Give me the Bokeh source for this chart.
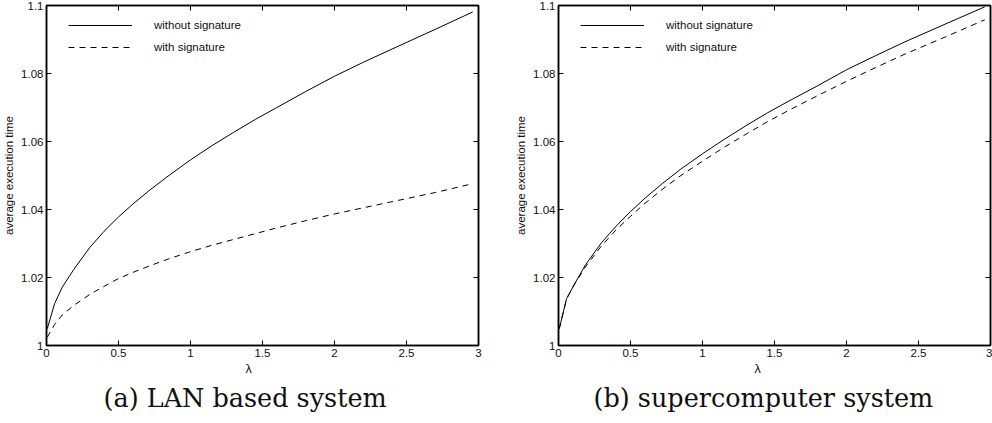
from bokeh.plotting import figure
from bokeh.models import (Range1d, FixedTicker, CustomJSTickFormatter, LinearAxis,
                          Legend, LegendItem, Title)
from bokeh.layouts import row
from bokeh.embed import file_html
from bokeh.resources import INLINE

# ---- data ----
lam = [0.005, 0.056, 0.11, 0.19, 0.3, 0.4, 0.5, 0.6, 0.72, 0.85, 1.0, 1.15, 1.3, 1.45,
       1.6, 1.8, 2.0, 2.2, 2.4, 2.7, 2.96]
lan_without = [1.0049, 1.0123, 1.0172, 1.0224, 1.0288, 1.0336, 1.0378, 1.0416, 1.0458,
               1.0500, 1.0546, 1.0588, 1.0627, 1.0665, 1.0700, 1.0747, 1.0792, 1.0833,
               1.0872, 1.0930, 1.0981]
lan_with = [1.0024, 1.0062, 1.0090, 1.0118, 1.0150, 1.0174, 1.0197, 1.0215, 1.0235,
            1.0255, 1.0276, 1.0295, 1.0312, 1.0329, 1.0346, 1.0367, 1.0387, 1.0405,
            1.0423, 1.0450, 1.0476]
sc_without = [1.0049, 1.0138, 1.0180, 1.0239, 1.0303, 1.0351, 1.0394, 1.0433, 1.0476,
              1.0519, 1.0564, 1.0606, 1.0646, 1.0684, 1.0719, 1.0764, 1.0811, 1.0852,
              1.0892, 1.0948, 1.0996]
sc_with = [1.0049, 1.0137, 1.0179, 1.0233, 1.0294, 1.0340, 1.0380, 1.0418, 1.0459,
           1.0500, 1.0542, 1.0583, 1.0621, 1.0658, 1.0692, 1.0735, 1.0777, 1.0817,
           1.0856, 1.0910, 1.0958]

x_ticks = [0, 0.5, 1, 1.5, 2, 2.5, 3]
y_ticks = [1, 1.02, 1.04, 1.06, 1.08, 1.1]
series_labels = ["without signature", "with signature"]
y_title = "average execution time"
x_title = "\u03bb"
captions = ["(a) LAN based system", "(b) supercomputer system"]

FONT = "Liberation Sans"
FS = "11.5px"


def style_axis(ax, show_labels=True):
    ax.axis_line_color = "black"
    ax.axis_line_width = 1.5
    ax.major_tick_in = 5
    ax.major_tick_out = 0
    ax.major_tick_line_color = "black"
    ax.minor_tick_line_color = None
    ax.major_label_text_font = FONT
    ax.major_label_text_font_size = FS
    ax.major_label_text_color = "#111111"
    ax.major_label_standoff = 3
    if show_labels:
        ax.formatter = CustomJSTickFormatter(code="return String(Number(tick.toFixed(3)));")
    else:
        ax.formatter = CustomJSTickFormatter(code="return ''")
        ax.major_label_standoff = 0


def make(yw, yd, caption, border_left, border_right, width, lam_off, cap_off):
    p = figure(width=width, height=423, x_range=Range1d(0, 3), y_range=Range1d(1, 1.1),
               output_backend="svg", toolbar_location=None,
               min_border_left=border_left, min_border_right=border_right,
               min_border_top=5, min_border_bottom=78)
    p.grid.visible = False
    p.outline_line_color = "black"
    p.outline_line_width = 1.5
    p.background_fill_color = "white"
    p.border_fill_color = "white"

    xa = p.xaxis[0]
    ya = p.yaxis[0]
    xa.ticker = FixedTicker(ticks=x_ticks)
    ya.ticker = FixedTicker(ticks=y_ticks)
    style_axis(xa)
    style_axis(ya)
    ya.axis_label = y_title
    ya.axis_label_text_font = FONT
    ya.axis_label_text_font_size = FS
    ya.axis_label_text_font_style = "normal"
    ya.axis_label_text_color = "#111111"
    ya.axis_label_standoff = 3

    top = LinearAxis(ticker=FixedTicker(ticks=x_ticks))
    right = LinearAxis(ticker=FixedTicker(ticks=y_ticks))
    style_axis(top, False)
    style_axis(right, False)
    p.add_layout(top, "above")
    p.add_layout(right, "right")

    r1 = p.line(lam, yw, line_color="black", line_width=1)
    r2 = p.line(lam, yd, line_color="black", line_width=1, line_dash="6 5")

    leg = Legend(items=[LegendItem(label=series_labels[0], renderers=[r1]),
                        LegendItem(label=series_labels[1], renderers=[r2])],
                 location=(22, 288))
    leg.border_line_alpha = 0
    leg.background_fill_alpha = 0
    leg.glyph_width = 64
    leg.glyph_height = 20
    leg.label_height = 20
    leg.label_standoff = 22
    leg.spacing = 2
    leg.padding = 0
    leg.margin = 0
    leg.label_text_font = FONT
    leg.label_text_font_size = FS
    leg.label_text_color = "#111111"
    p.add_layout(leg)

    lt = Title(text=x_title, align="left", offset=lam_off, text_font=FONT,
               text_font_size="12.5px", text_font_style="normal", text_color="#111111",
               standoff=0)
    ct = Title(text=caption, align="left", offset=cap_off, text_font="DejaVu Serif",
               text_font_size="25.5px", text_font_style="normal", text_color="#111111",
               standoff=11)
    p.add_layout(lt, "below")
    p.add_layout(ct, "below")
    return p


p1 = make(lan_without, lan_with, captions[0], 46, 18, 496, 199, 57)
p2 = make(sc_without, sc_with, captions[1], 62, 2, 496, 196, 35)

layout = row(p1, p2, styles={"position": "absolute", "left": "0px", "top": "0px"})

open("out.html", "w").write(file_html(layout, INLINE))
